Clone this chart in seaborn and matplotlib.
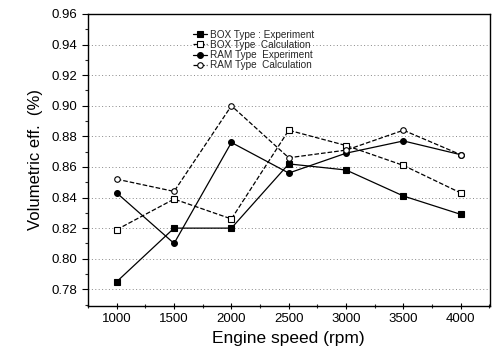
import pandas as pd
import matplotlib
matplotlib.use("Agg")
import matplotlib.pyplot as plt
import seaborn as sns
from matplotlib.ticker import MultipleLocator, FormatStrFormatter

# data
speed = [1000, 1500, 2000, 2500, 3000, 3500, 4000]
box_exp = [0.785, 0.820, 0.820, 0.862, 0.858, 0.841, 0.829]
box_calc = [0.819, 0.839, 0.826, 0.884, 0.874, 0.861, 0.843]
ram_exp = [0.843, 0.810, 0.876, 0.856, 0.869, 0.877, 0.868]
ram_calc = [0.852, 0.844, 0.900, 0.866, 0.871, 0.884, 0.868]

labels = ['BOX Type : Experiment', 'BOX Type  Calculation',
          'RAM Type  Experiment', 'RAM Type  Calculation']

sns.set_style("white")
plt.rcParams['font.family'] = ['Liberation Sans', 'DejaVu Sans']

fig = plt.figure(figsize=(4.93, 3.58), dpi=100)
ax = fig.add_axes([0.1775, 0.1466, 0.8164, 0.8143])

series = [
    (box_exp, labels[0], '-', 's', 'black', 3.8),
    (box_calc, labels[1], '--', 's', 'white', 3.8),
    (ram_exp, labels[2], '-', 'o', 'black', 4.2),
    (ram_calc, labels[3], '--', 'o', 'white', 4.0),
]
for vals, lab, ls, mk, fc, ms in series:
    sns.lineplot(x=speed, y=vals, ax=ax, label=lab, color='black',
                 linestyle=ls, linewidth=0.9, marker=mk, markersize=ms,
                 markerfacecolor=fc, markeredgecolor='black', markeredgewidth=0.8)

ax.set_xlim(745, 4255)
ax.set_ylim(0.7694, 0.96)
ax.set_xticks(speed)
ax.xaxis.set_minor_locator(MultipleLocator(250))
ax.yaxis.set_major_locator(MultipleLocator(0.02))
ax.yaxis.set_minor_locator(MultipleLocator(0.01))
ax.yaxis.set_major_formatter(FormatStrFormatter('%.2f'))

ax.grid(axis='y', which='major', linestyle=(0, (1, 2.5)), color='#888888', linewidth=0.7)
ax.grid(axis='x', visible=False)
for sp in ax.spines.values():
    sp.set_color('black')
    sp.set_linewidth(1.0)

ax.tick_params(axis='both', which='major', labelsize=9.5, length=4, width=0.8,
               color='black', labelcolor='black', left=True, bottom=True)
ax.tick_params(axis='x', which='both', direction='inout')
ax.tick_params(axis='y', which='both', direction='out')
ax.tick_params(axis='both', which='minor', length=2.5, width=0.8, left=True, bottom=True)

ax.set_xlabel('Engine speed (rpm)', fontsize=12.5, color='black', labelpad=4)
ax.set_ylabel('Volumetric eff.  (%)', fontsize=12, color='black', labelpad=6)

ax.legend(loc='upper left', bbox_to_anchor=(0.245, 0.97), frameon=False,
          fontsize=7.2, handlelength=1.4, labelspacing=0.02, handletextpad=0.3,
          borderpad=0.2)

fig.savefig('out.png', dpi=100)
